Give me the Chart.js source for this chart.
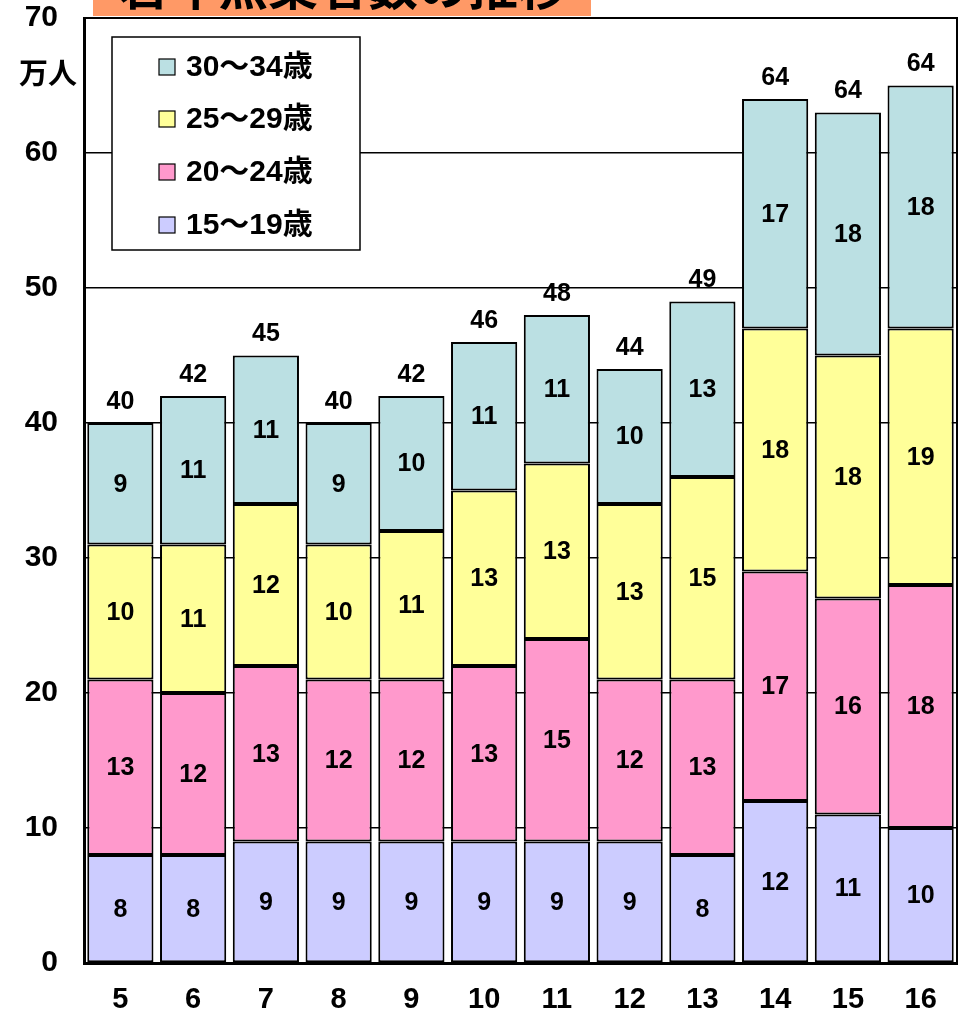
<!DOCTYPE html>
<html>
<head>
<meta charset="utf-8">
<script src="https://cdn.jsdelivr.net/npm/chart.js@4/dist/chart.umd.min.js"></script>
<style>
  html, body { margin: 0; padding: 0; background: #fff; }
  #wrap { width: 962px; height: 1011px; }
</style>
</head>
<body>
<div id="wrap"><canvas id="youthChart" width="962" height="1011"></canvas></div>
<script>
// 若年無業者数の推移 (万人)
const years = ['5', '6', '7', '8', '9', '10', '11', '12', '13', '14', '15', '16'];
const age15to19 = [8, 8, 9, 9, 9, 9, 9, 9, 8, 12, 11, 10];
const age20to24 = [13, 12, 13, 12, 12, 13, 15, 12, 13, 17, 16, 18];
const age25to29 = [10, 11, 12, 10, 11, 13, 13, 13, 15, 18, 18, 19];
const age30to34 = [9, 11, 11, 9, 10, 11, 11, 10, 13, 17, 18, 18];
const totals = [40, 42, 45, 40, 42, 46, 48, 44, 49, 64, 64, 64];
const yTicks = [0, 10, 20, 30, 40, 50, 60, 70];

const FONT = '"Liberation Sans", "Noto Sans CJK JP", sans-serif';

// labels inside segments + totals, legend box, title, frame
const annotate = {
    id: 'annotate',
    afterDatasetsDraw(chart) {
        const ctx = chart.ctx;
        const area = chart.chartArea;
        ctx.save();
        ctx.fillStyle = '#000';
        ctx.textAlign = 'center';
        ctx.textBaseline = 'middle';
        ctx.font = 'bold 25px ' + FONT;
        chart.data.datasets.forEach((ds, i) => {
            chart.getDatasetMeta(i).data.forEach((bar, j) => {
                ctx.fillText(ds.data[j], bar.x, (bar.y + bar.base) / 2 + 1);
            });
        });
        // totals above top segment
        const topMeta = chart.getDatasetMeta(chart.data.datasets.length - 1);
        topMeta.data.forEach((bar, j) => {
            ctx.fillText(totals[j], bar.x, bar.y - 21);
        });

        // frame top/right
        ctx.strokeStyle = '#000';
        ctx.lineWidth = 2;
        ctx.beginPath();
        ctx.moveTo(area.left, area.top);
        ctx.lineTo(area.right, area.top);
        ctx.lineTo(area.right, area.bottom);
        ctx.stroke();

        // legend box
        ctx.fillStyle = '#fff';
        ctx.fillRect(112, 37, 248, 213);
        ctx.lineWidth = 1.5;
        ctx.strokeRect(112, 37, 248, 213);
        const rows = [67, 119, 172, 225];
        const order = [3, 2, 1, 0];
        ctx.textAlign = 'left';
        ctx.font = 'bold 30px ' + FONT;
        order.forEach((di, k) => {
            const ds = chart.data.datasets[di];
            ctx.fillStyle = ds.backgroundColor;
            ctx.fillRect(159, rows[k] - 8, 16, 16);
            ctx.lineWidth = 1.2;
            ctx.strokeRect(159, rows[k] - 8, 16, 16);
            ctx.fillStyle = '#000';
            ctx.fillText(ds.label, 186, rows[k] + 1);
        });

        // unit label
        ctx.font = 'bold 29px ' + FONT;
        ctx.textAlign = 'left';
        ctx.fillText('万人', 19, 76);

        // title box, cut off at the top
        ctx.fillStyle = '#FF9966';
        ctx.fillRect(93, 0, 498, 16);
        ctx.fillStyle = '#000';
        ctx.textAlign = 'center';
        ctx.font = 'bold 50px "Noto Sans CJK JP", sans-serif';
        ctx.fillText('若年無業者数の推移', 343, -14);
        ctx.restore();
    }
};

const ctx = document.getElementById('youthChart').getContext('2d');
const youthChart = new Chart(ctx, {
    type: 'bar',
    data: {
        labels: years,
        datasets: [{
            label: '15〜19歳',
            data: age15to19,
            backgroundColor: '#CCCCFF'
        }, {
            label: '20〜24歳',
            data: age20to24,
            backgroundColor: '#FF99CC'
        }, {
            label: '25〜29歳',
            data: age25to29,
            backgroundColor: '#FFFF99'
        }, {
            label: '30〜34歳',
            data: age30to34,
            backgroundColor: '#BBE0E3'
        }]
    },
    options: {
        responsive: false,
        animation: false,
        layout: {
            padding: { top: 18, right: 5, left: 0, bottom: 0 }
        },
        datasets: {
            bar: {
                borderColor: '#000',
                borderWidth: 2,
                borderSkipped: false,
                categoryPercentage: 1.0,
                barPercentage: 0.91
            }
        },
        scales: {
            x: {
                stacked: true,
                grid: { display: false },
                border: { color: '#000', width: 3 },
                ticks: {
                    color: '#000',
                    padding: 12,
                    font: { family: FONT, size: 29, weight: 'bold' }
                },
                afterFit(scale) {
                    scale.height = 48;
                    scale.paddingLeft = 0;
                    scale.paddingRight = 0;
                }
            },
            y: {
                stacked: true,
                min: 0,
                max: 70,
                afterBuildTicks(scale) {
                    scale.ticks = yTicks.map(v => ({ value: v }));
                },
                grid: {
                    color: '#000',
                    lineWidth: 1.5,
                    drawTicks: false
                },
                border: { color: '#000', width: 3 },
                ticks: {
                    color: '#000',
                    padding: 26,
                    font: { family: FONT, size: 30, weight: 'bold' }
                },
                afterFit(scale) {
                    scale.width = 84;
                    scale.paddingTop = 0;
                    scale.paddingBottom = 0;
                }
            }
        },
        plugins: {
            legend: { display: false },
            tooltip: { enabled: false }
        }
    },
    plugins: [annotate]
});
</script>
</body>
</html>
